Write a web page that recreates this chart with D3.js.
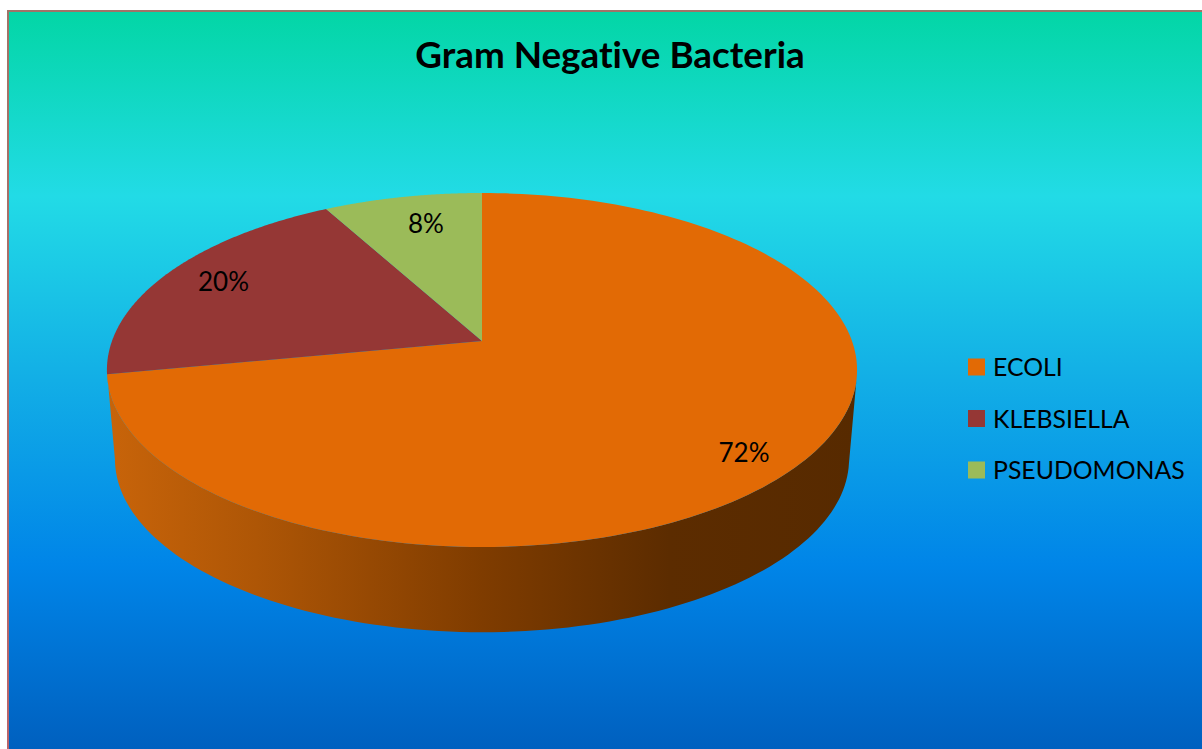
<!DOCTYPE html>
<html>
<head>
<meta charset="utf-8">
<script src="https://cdn.jsdelivr.net/npm/d3@7"></script>
<style>
html,body{margin:0;padding:0;background:#fff;overflow:hidden}
svg{display:block}
text{font-family:Lato,"Open Sans",sans-serif;fill:#000;font-variant-ligatures:none}
</style>
</head>
<body>
<svg id="chart" width="1202" height="749"></svg>
<script>
const categories = ["ECOLI", "KLEBSIELLA", "PSEUDOMONAS"];
const values = [72, 20, 8];
const sliceColors = ["#e26a05", "#953735", "#9bbb59"];
const titleText = "Gram Negative Bacteria";

const svg = d3.select("#chart");
const defs = svg.append("defs");

// Chart-area background
const bg = defs.append("linearGradient").attr("id", "bg")
  .attr("x1", 0).attr("y1", 0).attr("x2", 0).attr("y2", 1);
[[0, "#03d6a6"], [0.25, "#22dbe6"], [0.5, "#12aee6"], [0.75, "#0085e8"], [1, "#0060bf"]]
  .forEach(([o, c]) => bg.append("stop").attr("offset", o).attr("stop-color", c));

// Frame colour drifts slightly from top to bottom
const frame = defs.append("linearGradient").attr("id", "frame")
  .attr("x1", 0).attr("y1", 0).attr("x2", 0).attr("y2", 1);
[[0, "#a07468"], [1, "#b8646c"]]
  .forEach(([o, c]) => frame.append("stop").attr("offset", o).attr("stop-color", c));

svg.append("rect").attr("x", 7).attr("y", 10).attr("width", 1195).attr("height", 739).attr("fill", "url(#frame)");
svg.append("rect").attr("x", 9).attr("y", 12).attr("width", 1193).attr("height", 737).attr("fill", "url(#bg)");

// Side wall shading runs left to right
const wall = defs.append("linearGradient").attr("id", "wall")
  .attr("gradientUnits", "userSpaceOnUse")
  .attr("x1", 107).attr("y1", 0).attr("x2", 857).attr("y2", 0);
[[0, "#c8640a"], [0.2, "#ae5606"], [0.5, "#7f3c00"], [0.75, "#5c2c00"], [1, "#572a00"]]
  .forEach(([o, c]) => wall.append("stop").attr("offset", o).attr("stop-color", c));

// Perspective projection of the unit disc onto the top face
const apex = { x: 482, y: 341 };
const persp = { k: 370, a: 116.4, c: -0.1638 };
const depthOf = angle => -Math.cos(angle);
function topPoint(angle) {
  const u = Math.sin(angle), v = depthOf(angle);
  const w = 1 + persp.c * v;
  return [apex.x + persp.k * u / w, (persp.a * v + apex.y) / w];
}
// Lower rim: the top rim shrunk slightly and pushed down
const rim = { scale: 367 / 375, drop: 89, cy: 370 };
function bottomPoint(angle) {
  const [x, y] = topPoint(angle);
  return [apex.x + rim.scale * (x - apex.x), rim.cy + rim.scale * (y - rim.cy) + rim.drop];
}

const pie = d3.pie().sort(null).value(d => d);
const arcs = pie(values);
const line = d3.line();
const steps = a => d3.range(0, 181).map(i => a.startAngle + (a.endAngle - a.startAngle) * i / 180);

// Side wall: only the part of the rim facing the viewer
const frontAngles = arcs.flatMap(steps).filter(t => depthOf(t) >= -persp.c);
svg.append("path")
  .attr("d", line([...frontAngles.map(topPoint), ...frontAngles.slice().reverse().map(bottomPoint)]) + "Z")
  .attr("fill", "url(#wall)");

// Top face
svg.append("g").selectAll("path").data(arcs).join("path")
  .attr("d", a => line([[apex.x, apex.y], ...steps(a).map(topPoint)]) + "Z")
  .attr("fill", (a, i) => sliceColors[i]);

// Percentage labels
const total = d3.sum(values);
const labelPos = [[744, 452], [223.5, 281], [426, 223]];
svg.append("g").selectAll("text").data(values).join("text")
  .attr("x", (d, i) => labelPos[i][0])
  .attr("y", (d, i) => labelPos[i][1])
  .attr("text-anchor", "middle")
  .attr("dominant-baseline", "central")
  .attr("font-size", 26)
  .text(d => `${Math.round(d / total * 100)}%`);

// Title
svg.append("text").attr("x", 610).attr("y", 68)
  .attr("text-anchor", "middle")
  .attr("font-size", 36.8).attr("font-weight", 700)
  .text(titleText);

// Legend
const legendY = d3.scalePoint().domain(categories).range([367, 470]);
const legend = svg.append("g").selectAll("g").data(categories).join("g")
  .attr("transform", d => `translate(968,${legendY(d)})`);
legend.append("rect").attr("y", -8.5).attr("width", 17).attr("height", 17)
  .attr("fill", (d, i) => sliceColors[i]);
legend.append("text").attr("x", 25).attr("y", -0.5)
  .attr("dominant-baseline", "central")
  .attr("font-size", 24.8)
  .text(d => d);
</script>
</body>
</html>
